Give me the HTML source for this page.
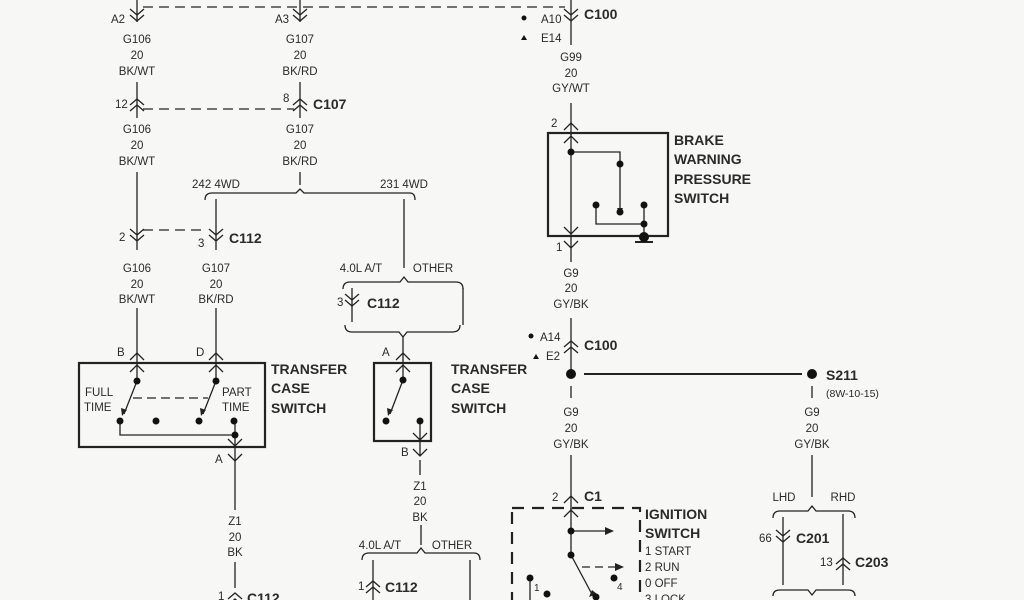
<!DOCTYPE html>
<html><head><meta charset="utf-8"><style>
html,body{margin:0;padding:0;background:#f7f7f5;}
svg{display:block}
text{font-family:"Liberation Sans",sans-serif;fill:#2a2a2a}
.t{font-size:11.5px;text-anchor:middle}
.l{font-size:11.5px}
.b{font-size:14px;font-weight:bold}
</style></head><body>
<svg width="1024" height="600" viewBox="0 0 1024 600" xmlns="http://www.w3.org/2000/svg">
<defs>
<g id="dn" fill="none" stroke="#222" stroke-width="1.3"><path d="M-7,-8 L0,-2 L7,-8 M-7,-2 L0,4 L7,-2"/></g>
<g id="up" fill="none" stroke="#222" stroke-width="1.3"><path d="M-7,8 L0,2 L7,8 M-7,2 L0,-4 L7,2"/></g>
<g id="v1" fill="none" stroke="#222" stroke-width="1.3"><path d="M-7,-6 L0,1 L7,-6"/></g>
<g id="a1" fill="none" stroke="#222" stroke-width="1.3"><path d="M-7,6 L0,-1 L7,6"/></g>
</defs>
<rect width="1024" height="600" fill="#f7f7f5"/>
<g stroke="#222" stroke-width="1.3" fill="none">
<line x1="137" y1="0" x2="137" y2="22"/><line x1="300" y1="0" x2="300" y2="22"/><line x1="571" y1="0" x2="571" y2="22"/>
<line x1="143" y1="7" x2="565" y2="7" stroke-dasharray="10,6"/>
<line x1="137" y1="82" x2="137" y2="118"/><line x1="300" y1="82" x2="300" y2="118"/>
<line x1="143" y1="109" x2="294" y2="109" stroke-dasharray="10,6"/>
<line x1="137" y1="172" x2="137" y2="250"/>
<line x1="300" y1="172" x2="300" y2="185" />
<path d="M205,200 Q205,193 212,193 L296,193 L300,189 L304,193 L410,193 Q415,193 415,200"/>
<line x1="216" y1="199" x2="216" y2="250"/>
<line x1="404" y1="199" x2="404" y2="268"/>
<line x1="143" y1="230" x2="205" y2="230" stroke-dasharray="10,6"/>
<line x1="137" y1="308" x2="137" y2="363"/><line x1="216" y1="308" x2="216" y2="363"/>
<path d="M343,289 Q343,282 350,282 L400,282 L404,277 L408,282 L456,282 Q463,282 463,289"/>
<line x1="352" y1="288" x2="352" y2="322"/><line x1="463" y1="288" x2="463" y2="325"/>
<path d="M345,325 Q345,332 352,332 L399,332 L403,337 L407,332 L452,332 Q460,332 460,325"/>
<line x1="403" y1="337" x2="403" y2="362"/>
<rect x="79" y="363" width="186" height="84" stroke-width="2.2"/>
<line x1="137" y1="363" x2="137" y2="381"/><line x1="216" y1="363" x2="216" y2="381"/>
<line x1="137" y1="381" x2="124" y2="414"/><line x1="216" y1="381" x2="203" y2="414"/>
<line x1="133" y1="398" x2="208" y2="398" stroke-dasharray="9,5"/>
<path d="M120,421 L120,435 L235,435"/><line x1="235" y1="421" x2="235" y2="458"/>
<line x1="235" y1="458" x2="235" y2="510"/>
<line x1="235" y1="562" x2="235" y2="588"/>
<rect x="374" y="363" width="57" height="78" stroke-width="2.2"/>
<line x1="403" y1="363" x2="403" y2="380"/><line x1="403" y1="380" x2="390" y2="414"/>
<line x1="420" y1="421" x2="420" y2="455"/>
<line x1="420" y1="460" x2="420" y2="475"/>
<line x1="421" y1="525" x2="421" y2="545"/>
<path d="M362,560 Q362,553 369,553 L417,553 L421,548 L425,553 L474,553 Q480,553 480,560"/>
<line x1="373" y1="560" x2="373" y2="600"/><line x1="470" y1="560" x2="470" y2="600"/>
<line x1="571" y1="22" x2="571" y2="45"/>
<line x1="571" y1="103" x2="571" y2="135"/>
<rect x="548" y="133" width="120" height="103" stroke-width="2.2"/>
<line x1="571" y1="133" x2="571" y2="237"/>
<path d="M571,152 L620,152 L620,208"/>
<path d="M596,204 L596,224 L644,224"/><line x1="644" y1="205" x2="644" y2="236"/>
<line x1="635" y1="242" x2="653" y2="242" stroke-width="2"/>
<line x1="571" y1="237" x2="571" y2="262"/>
<line x1="571" y1="318" x2="571" y2="374"/>
<line x1="584" y1="374" x2="802" y2="374" stroke-width="2"/>
<line x1="571" y1="386" x2="571" y2="398"/><line x1="812" y1="386" x2="812" y2="398"/>
<line x1="571" y1="455" x2="571" y2="510"/>
<line x1="812" y1="455" x2="812" y2="497"/>
<rect x="512" y="508" width="128" height="100" stroke-width="2.2" stroke-dasharray="12,8"/>
<line x1="571" y1="508" x2="571" y2="555"/>
<line x1="571" y1="531" x2="605" y2="531"/><line x1="582" y1="567" x2="615" y2="567" stroke-dasharray="8,5"/>
<line x1="571" y1="555" x2="594" y2="598"/>
<line x1="530" y1="578" x2="530" y2="600"/>
<path d="M773,518 Q773,511 780,511 L808,511 L812,506 L816,511 L848,511 Q855,511 855,518"/>
<line x1="783" y1="517" x2="783" y2="585"/><line x1="843" y1="514" x2="843" y2="585"/>
<path d="M773,596 Q773,590 780,590 L808,590 L812,595 L816,590 L848,590 Q855,590 855,596"/>
</g>
<g fill="#222">
<polygon points="605,527 614,531 605,535"/><polygon points="615,563 624,567 615,571"/>
<polygon points="122,416 121,408 127,410"/><polygon points="201,416 200,408 206,410"/><polygon points="388,416 387,408 393,410"/>
<polygon points="617,208 623,208 620,214"/>
<polygon points="589,597 592,590 597,594"/>
</g>
<g fill="#111">
<circle cx="137" cy="381" r="3.5"/><circle cx="216" cy="381" r="3.5"/><circle cx="120" cy="421" r="3.5"/><circle cx="156" cy="421" r="3.5"/><circle cx="199" cy="421" r="3.5"/><circle cx="234" cy="421" r="3.5"/><circle cx="235" cy="435" r="3.5"/>
<circle cx="403" cy="380" r="3.5"/><circle cx="386" cy="421" r="3.5"/><circle cx="420" cy="421" r="3.5"/>
<circle cx="571" cy="152" r="3.5"/><circle cx="620" cy="164" r="3.5"/><circle cx="620" cy="212" r="3.5"/><circle cx="596" cy="205" r="3.5"/><circle cx="644" cy="205" r="3.5"/><circle cx="644" cy="224" r="3.5"/><circle cx="644" cy="237" r="5"/>
<circle cx="571" cy="374" r="5"/><circle cx="812" cy="374" r="5"/>
<circle cx="524" cy="18" r="2.5"/><circle cx="531" cy="336" r="2.5"/>
<polygon points="521,40 524,35 527,40"/><polygon points="533,359 536,354 539,359"/>
<circle cx="571" cy="531" r="3.5"/><circle cx="571" cy="555" r="3.5"/><circle cx="614" cy="578" r="3.5"/><circle cx="530" cy="578" r="3.5"/><circle cx="547" cy="594" r="3.5"/><circle cx="596" cy="597" r="3.5"/>
</g>
<use href="#dn" x="137" y="17"/><use href="#dn" x="300" y="17"/><use href="#dn" x="571" y="17"/>
<use href="#up" x="137" y="103"/><use href="#up" x="300" y="103"/>
<use href="#dn" x="137" y="237"/><use href="#dn" x="216" y="237"/><use href="#dn" x="352" y="302"/>
<use href="#a1" x="137" y="354"/><use href="#a1" x="216" y="354"/><use href="#a1" x="137" y="366"/><use href="#a1" x="216" y="366"/>
<use href="#a1" x="403" y="354"/><use href="#a1" x="403" y="366"/>
<use href="#v1" x="235" y="445"/><use href="#v1" x="235" y="460"/>
<use href="#v1" x="420" y="439"/><use href="#v1" x="420" y="455"/>
<use href="#up" x="373" y="585"/><use href="#up" x="235" y="597"/>
<use href="#a1" x="571" y="124"/><use href="#a1" x="571" y="137"/>
<use href="#v1" x="571" y="233"/><use href="#v1" x="571" y="247"/>
<use href="#up" x="571" y="345"/>
<use href="#a1" x="571" y="497"/><use href="#a1" x="571" y="511"/>
<use href="#dn" x="783" y="538"/><use href="#up" x="843" y="562"/>
<text class="l" x="111" y="23">A2</text><text class="l" x="275" y="23">A3</text>
<text class="t" x="137" y="43">G106</text><text class="t" x="137" y="59">20</text><text class="t" x="137" y="75">BK/WT</text>
<text class="t" x="300" y="43">G107</text><text class="t" x="300" y="59">20</text><text class="t" x="300" y="75">BK/RD</text>
<text class="l" x="115" y="108">12</text><text class="l" x="283" y="102">8</text><text class="b" x="313" y="109">C107</text>
<text class="t" x="137" y="133">G106</text><text class="t" x="137" y="149">20</text><text class="t" x="137" y="165">BK/WT</text>
<text class="t" x="300" y="133">G107</text><text class="t" x="300" y="149">20</text><text class="t" x="300" y="165">BK/RD</text>
<text class="t" x="216" y="188">242 4WD</text><text class="t" x="404" y="188">231 4WD</text>
<text class="l" x="119" y="241">2</text><text class="l" x="198" y="247">3</text><text class="b" x="229" y="243">C112</text>
<text class="t" x="137" y="272">G106</text><text class="t" x="137" y="288">20</text><text class="t" x="137" y="303">BK/WT</text>
<text class="t" x="216" y="272">G107</text><text class="t" x="216" y="288">20</text><text class="t" x="216" y="303">BK/RD</text>
<text class="t" x="361" y="272">4.0L A/T</text><text class="t" x="433" y="272">OTHER</text>
<text class="l" x="337" y="306">3</text><text class="b" x="367" y="308">C112</text>
<text class="l" x="117" y="356">B</text><text class="l" x="196" y="356">D</text><text class="l" x="382" y="356">A</text>
<text class="l" x="85" y="396">FULL</text><text class="l" x="84" y="411">TIME</text>
<text class="l" x="222" y="396">PART</text><text class="l" x="222" y="411">TIME</text>
<text class="b" x="271" y="374">TRANSFER</text><text class="b" x="271" y="393">CASE</text><text class="b" x="271" y="413">SWITCH</text>
<text class="b" x="451" y="374">TRANSFER</text><text class="b" x="451" y="393">CASE</text><text class="b" x="451" y="413">SWITCH</text>
<text class="l" x="215" y="463">A</text><text class="l" x="401" y="456">B</text>
<text class="t" x="420" y="490">Z1</text><text class="t" x="420" y="505">20</text><text class="t" x="420" y="521">BK</text>
<text class="t" x="235" y="525">Z1</text><text class="t" x="235" y="541">20</text><text class="t" x="235" y="556">BK</text>
<text class="t" x="380" y="549">4.0L A/T</text><text class="t" x="452" y="549">OTHER</text>
<text class="l" x="358" y="590">1</text><text class="b" x="385" y="592">C112</text>
<text class="l" x="218" y="600">1</text><text class="b" x="247" y="603">C112</text>
<text class="b" x="584" y="19">C100</text>
<text class="l" x="541" y="23">A10</text><text class="l" x="541" y="42">E14</text>
<text class="t" x="571" y="61">G99</text><text class="t" x="571" y="77">20</text><text class="t" x="571" y="92">GY/WT</text>
<text class="l" x="551" y="127">2</text><text class="l" x="556" y="251">1</text>
<text class="b" x="674" y="145">BRAKE</text><text class="b" x="674" y="164">WARNING</text><text class="b" x="674" y="184">PRESSURE</text><text class="b" x="674" y="203">SWITCH</text>
<text class="t" x="571" y="277">G9</text><text class="t" x="571" y="292">20</text><text class="t" x="571" y="308">GY/BK</text>
<text class="l" x="540" y="341">A14</text><text class="l" x="546" y="360">E2</text><text class="b" x="584" y="350">C100</text>
<text class="b" x="826" y="380">S211</text><text style="font-size:10.5px" x="826" y="397">(8W-10-15)</text>
<text class="t" x="571" y="416">G9</text><text class="t" x="571" y="432">20</text><text class="t" x="571" y="448">GY/BK</text>
<text class="t" x="812" y="416">G9</text><text class="t" x="812" y="432">20</text><text class="t" x="812" y="448">GY/BK</text>
<text class="l" x="552" y="501">2</text><text class="b" x="584" y="501">C1</text>
<text class="b" x="645" y="519">IGNITION</text><text class="b" x="645" y="538">SWITCH</text>
<text class="l" x="645" y="555">1 START</text><text class="l" x="645" y="571">2 RUN</text><text class="l" x="645" y="587">0 OFF</text><text class="l" x="645" y="603">3 LOCK</text>
<text class="l" x="534" y="591" style="font-size:10px">1</text><text class="l" x="617" y="590" style="font-size:10px">4</text>
<text class="t" x="784" y="501">LHD</text><text class="t" x="843" y="501">RHD</text>
<text class="l" x="759" y="542">66</text><text class="b" x="796" y="543">C201</text>
<text class="l" x="820" y="566">13</text><text class="b" x="855" y="567">C203</text>
</svg>
</body></html>
